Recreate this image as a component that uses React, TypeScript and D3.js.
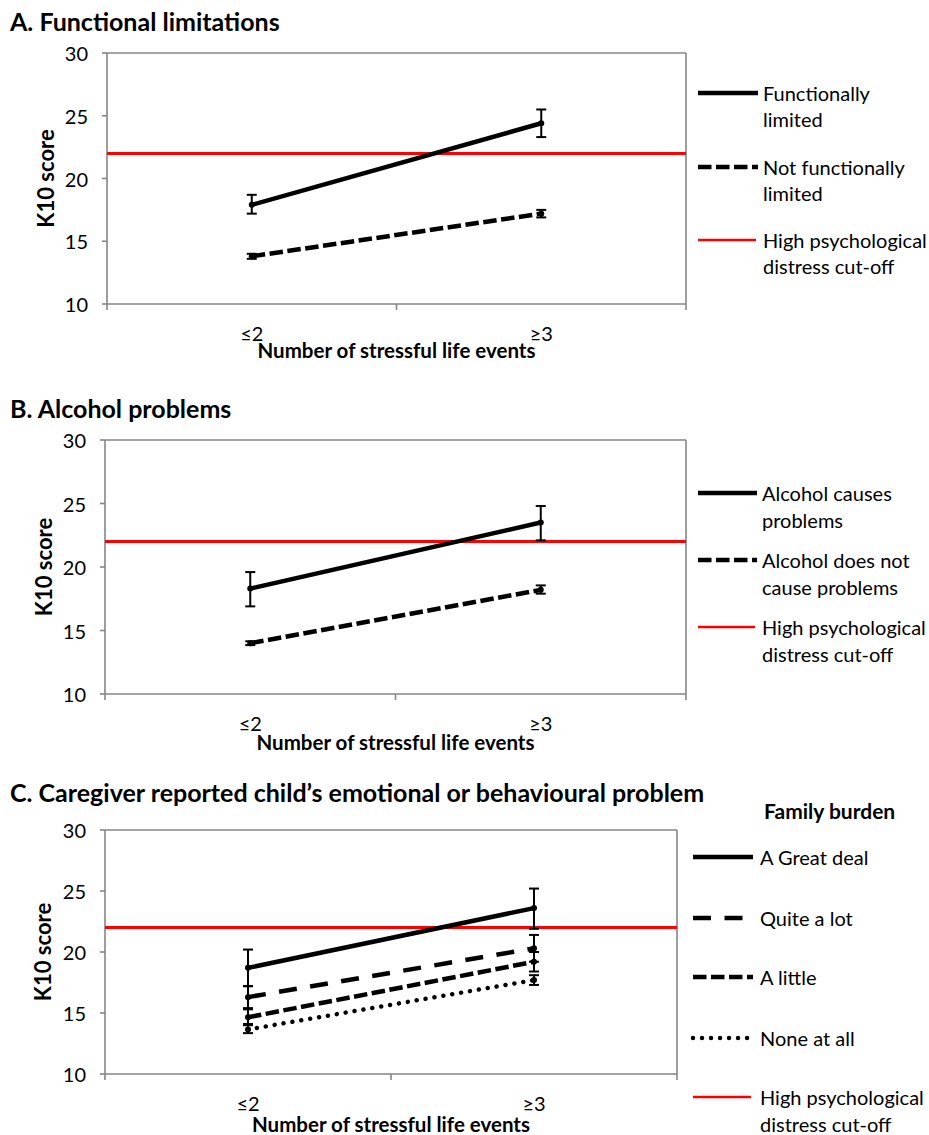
import React from 'react';
import * as d3 from 'd3';

// shared axis values
const categories = ['≤2', '≥3'];
const yTicks = [10, 15, 20, 25, 30];
const cutOff = 22;
const cutOffLabel = ['High psychological', 'distress cut-off'];
const xAxisTitle = 'Number of stressful life events';
const yAxisTitle = 'K10 score';

// A. Functional limitations
const limitedMean = [17.9, 24.4];
const limitedLow = [17.2, 23.3];
const limitedHigh = [18.7, 25.5];
const notLimitedMean = [13.8, 17.2];
const notLimitedLow = [13.6, 16.9];
const notLimitedHigh = [14.0, 17.5];

// B. Alcohol problems
const alcoholMean = [18.3, 23.5];
const alcoholLow = [16.9, 22.1];
const alcoholHigh = [19.6, 24.8];
const noAlcoholMean = [14.0, 18.2];
const noAlcoholLow = [13.85, 17.9];
const noAlcoholHigh = [14.15, 18.55];

// C. Family burden
const greatDealMean = [18.7, 23.6];
const greatDealLow = [17.2, 21.9];
const greatDealHigh = [20.2, 25.2];
const quiteLotMean = [16.3, 20.3];
const quiteLotLow = [15.4, 19.2];
const quiteLotHigh = [17.2, 21.4];
const littleMean = [14.65, 19.2];
const littleLow = [14.1, 18.4];
const littleHigh = [15.3, 20.0];
const noneMean = [13.65, 17.7];
const noneLow = [13.35, 17.3];
const noneHigh = [14.0, 18.1];

const FONT = 'Lato, "Open Sans", sans-serif';
const W = 4.5;
const DASH = { solid: null, sysDash: `${3 * W} ${W}`, dash: `${4 * W} ${3 * W}`, dot: `0.01 ${2 * W}` } as const;

type Series = {
  mean: number[]; low: number[]; high: number[];
  dash: keyof typeof DASH; label: string[]; legendY: number;
};

type PanelProps = {
  title: string; titleY: number;
  box: { left: number; right: number; top: number; bottom: number };
  xLabelY: number; xTitleY: number; yTitleX: number;
  series: Series[];
  sampleX: [number, number]; textX: number; lineGap: number;
  cutY: number; header?: { text: string; x: number; y: number };
};

const Panel: React.FC<PanelProps> = p => {
  const { box } = p;
  const y = d3.scaleLinear().domain([10, 30]).range([box.bottom, box.top]);
  const xPt = d3.scalePoint<string>().domain(categories).range([box.left, box.right]).padding(0.5);
  const xBand = d3.scaleBand<string>().domain(categories).range([box.left, box.right]);
  const bounds = [box.left, ...categories.map(c => (xBand(c) as number) + xBand.bandwidth())];
  const line = d3.line<number>().x((_, i) => xPt(categories[i]) as number).y(d => y(d));
  const gray = '#868686';

  return (
    <g>
      <text x={10} y={p.titleY} dominantBaseline="central" fontFamily={FONT} fontWeight={700} fontSize={25}>{p.title}</text>
      {/* frame */}
      <line x1={box.left} x2={box.right} y1={box.top} y2={box.top} stroke={gray} strokeWidth={1.6} />
      <line x1={box.right} x2={box.right} y1={box.top} y2={box.bottom} stroke={gray} strokeWidth={1.6} />
      <line x1={box.left} x2={box.left} y1={box.top} y2={box.bottom} stroke={gray} strokeWidth={1.6} />
      <line x1={box.left} x2={box.right} y1={box.bottom} y2={box.bottom} stroke={gray} strokeWidth={1.6} />
      {yTicks.map(t => (
        <g key={t}>
          <line x1={box.left - 5} x2={box.left} y1={y(t)} y2={y(t)} stroke={gray} strokeWidth={1.6} />
          <text x={box.left - 19} y={y(t)} textAnchor="end" dominantBaseline="central" fontFamily={FONT} fontSize={20}>{t}</text>
        </g>
      ))}
      {bounds.map((b, i) => (
        <line key={i} x1={b} x2={b} y1={box.bottom} y2={box.bottom + 6} stroke={gray} strokeWidth={1.6} />
      ))}
      {categories.map(c => (
        <text key={c} x={xPt(c)} y={p.xLabelY} textAnchor="middle" dominantBaseline="central" fontFamily={FONT} fontSize={20}>{c}</text>
      ))}
      <text x={(box.left + box.right) / 2} y={p.xTitleY} textAnchor="middle" dominantBaseline="central" fontFamily={FONT} fontWeight={700} fontSize={20.5}>{xAxisTitle}</text>
      <text transform={`translate(${p.yTitleX},${(box.top + box.bottom) / 2}) rotate(-90)`} textAnchor="middle" dominantBaseline="central" fontFamily={FONT} fontWeight={700} fontSize={22}>{yAxisTitle}</text>

      {/* cut-off */}
      <line x1={box.left} x2={box.right} y1={y(cutOff)} y2={y(cutOff)} stroke="#ff0000" strokeWidth={3} />

      {p.series.map((s, k) => (
        <g key={k}>
          <path d={line(s.mean) as string} fill="none" stroke="#000" strokeWidth={W}
            strokeDasharray={DASH[s.dash] ?? undefined} strokeLinecap={s.dash === 'dot' ? 'round' : 'butt'} />
          {s.mean.map((m, i) => {
            const cx = xPt(categories[i]) as number;
            return (
              <g key={i}>
                <line x1={cx} x2={cx} y1={y(s.low[i])} y2={y(s.high[i])} stroke="#000" strokeWidth={2} />
                <line x1={cx - 5} x2={cx + 5} y1={y(s.low[i])} y2={y(s.low[i])} stroke="#000" strokeWidth={2} />
                <line x1={cx - 5} x2={cx + 5} y1={y(s.high[i])} y2={y(s.high[i])} stroke="#000" strokeWidth={2} />
                <circle cx={cx} cy={y(m)} r={3} fill="#000" />
              </g>
            );
          })}
        </g>
      ))}

      {/* legend */}
      {p.header && (
        <text x={p.header.x} y={p.header.y} dominantBaseline="central" fontFamily={FONT} fontWeight={700} fontSize={21}>{p.header.text}</text>
      )}
      {p.series.map((s, k) => (
        <g key={k}>
          <line x1={p.sampleX[0]} x2={p.sampleX[1]} y1={s.legendY} y2={s.legendY} stroke="#000" strokeWidth={W}
            strokeDasharray={DASH[s.dash] ?? undefined} strokeLinecap={s.dash === 'dot' ? 'round' : 'butt'} />
          {s.label.map((t, j) => (
            <text key={j} x={p.textX} y={s.legendY + j * p.lineGap} dominantBaseline="central" fontFamily={FONT} fontSize={20}>{t}</text>
          ))}
        </g>
      ))}
      <line x1={p.sampleX[0]} x2={p.sampleX[1] - 2} y1={p.cutY} y2={p.cutY} stroke="#ff0000" strokeWidth={2.5} />
      {cutOffLabel.map((t, j) => (
        <text key={j} x={p.textX} y={p.cutY + j * p.lineGap} dominantBaseline="central" fontFamily={FONT} fontSize={20}>{t}</text>
      ))}
    </g>
  );
};

export default function App() {
  return (
    <div style={{ position: 'absolute', left: 0, top: 0 }}>
      <svg width={929} height={1135} style={{ display: 'block', background: '#fff' }}>
        <Panel
          title="A. Functional limitations" titleY={21}
          box={{ left: 107, right: 686, top: 53, bottom: 304 }}
          xLabelY={333} xTitleY={350} yTitleX={45}
          sampleX={[698, 758]} textX={763} lineGap={26} cutY={240}
          series={[
            { mean: limitedMean, low: limitedLow, high: limitedHigh, dash: 'solid', label: ['Functionally', 'limited'], legendY: 93 },
            { mean: notLimitedMean, low: notLimitedLow, high: notLimitedHigh, dash: 'sysDash', label: ['Not functionally', 'limited'], legendY: 167 },
          ]}
        />
        <Panel
          title="B. Alcohol problems" titleY={408}
          box={{ left: 105, right: 686, top: 440, bottom: 694 }}
          xLabelY={723} xTitleY={742} yTitleX={43}
          sampleX={[698, 757]} textX={762} lineGap={27} cutY={627}
          series={[
            { mean: alcoholMean, low: alcoholLow, high: alcoholHigh, dash: 'solid', label: ['Alcohol causes', 'problems'], legendY: 493 },
            { mean: noAlcoholMean, low: noAlcoholLow, high: noAlcoholHigh, dash: 'sysDash', label: ['Alcohol does not', 'cause problems'], legendY: 560 },
          ]}
        />
        <Panel
          title="C. Caregiver reported child’s emotional or behavioural problem" titleY={792}
          box={{ left: 105, right: 677, top: 830, bottom: 1074 }}
          xLabelY={1103} xTitleY={1124} yTitleX={42}
          sampleX={[693, 753]} textX={760} lineGap={27} cutY={1097}
          header={{ text: 'Family burden', x: 764, y: 810 }}
          series={[
            { mean: greatDealMean, low: greatDealLow, high: greatDealHigh, dash: 'solid', label: ['A Great deal'], legendY: 857 },
            { mean: quiteLotMean, low: quiteLotLow, high: quiteLotHigh, dash: 'dash', label: ['Quite a lot'], legendY: 918 },
            { mean: littleMean, low: littleLow, high: littleHigh, dash: 'sysDash', label: ['A little'], legendY: 977 },
            { mean: noneMean, low: noneLow, high: noneHigh, dash: 'dot', label: ['None at all'], legendY: 1038 },
          ]}
        />
      </svg>
    </div>
  );
}
